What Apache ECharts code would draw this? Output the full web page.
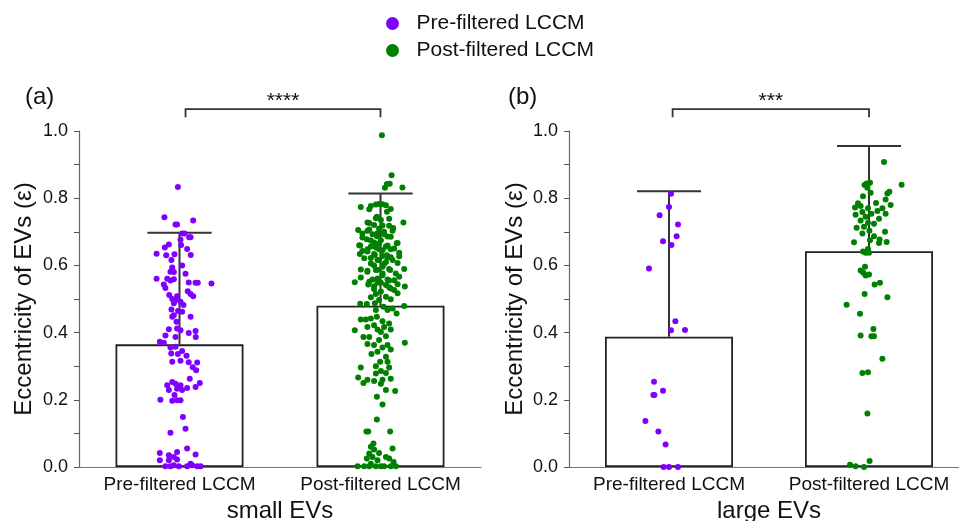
<!DOCTYPE html>
<html><head><meta charset="utf-8">
<script src="https://cdn.jsdelivr.net/npm/echarts@6/dist/echarts.min.js"></script>
<style>html,body{margin:0;padding:0;background:#fff}#c{width:959px;height:521px}</style>
</head><body><div id="c"></div>
<script>
// ---------- data ----------
const categories = ['Pre-filtered LCCM', 'Post-filtered LCCM'];
const panelNames = ['small EVs', 'large EVs'];
const panelTags = ['(a)', '(b)'];
const yAxisTitle = 'Eccentricity of EVs (\u03b5)';
const sigLabels = ['****', '***'];
const sigLevel = [1.065, 1.065];

const meansSmall = [0.365, 0.480];
const errTopSmall = [0.697, 0.814];
const meansLarge = [0.388, 0.642];
const errTopLarge = [0.821, 0.955];

const smallPreValues = [0.833,0.743,0.734,0.722,0.722,0.695,0.695,0.684,0.684,0.676,
0.662,0.661,0.653,0.649,0.635,0.633,0.631,0.630,0.616,0.600,
0.594,0.581,0.580,0.575,0.560,0.560,0.555,0.559,0.549,0.548,
0.548,0.546,0.543,0.533,0.523,0.515,0.512,0.508,0.508,0.500,
0.497,0.492,0.487,0.482,0.469,0.464,0.462,0.452,0.447,0.447,
0.432,0.410,0.412,0.407,0.405,0.399,0.391,0.387,0.387,0.373,
0.370,0.356,0.358,0.345,0.338,0.336,0.331,0.313,0.316,0.312,
0.311,0.297,0.288,0.263,0.250,0.243,0.253,0.248,0.243,0.233,
0.229,0.235,0.238,0.229,0.214,0.199,0.199,0.200,0.197,0.149,
0.114,0.102,0.042,0.045,0.055,0.035,0.030,0.037,0.020,0.020,
0.022,0.005,0.010,0.005,0.002,0.002,0.002,0.002,0.002,0.002];
const smallPreJitter = [-0.008,-0.075,0.068,-0.02,-0.012,0.013,0.025,0.055,0.048,0.005,
-0.053,0.008,-0.073,0.038,-0.114,-0.025,0.056,-0.066,-0.04,0.013,
-0.036,-0.045,-0.028,0.03,-0.114,-0.061,-0.045,-0.028,0.046,0.08,
0.091,0.159,-0.078,-0.07,0.041,0.055,-0.051,-0.012,0.068,-0.036,
-0.02,0.005,-0.028,0.02,-0.04,-0.007,0.013,-0.028,0.055,-0.036,
-0.015,-0.053,-0.012,0.005,0.08,0.046,-0.07,-0.02,0.081,-0.098,
-0.078,-0.045,-0.02,0.013,-0.041,-0.008,0.035,-0.036,0.005,0.046,
0.088,0.066,0.083,0.051,0.101,-0.061,-0.036,-0.02,0.005,-0.012,
0.013,0.038,0.08,-0.053,-0.025,-0.012,0.005,-0.095,-0.036,0.017,
0.03,-0.045,-0.098,-0.012,0.038,-0.053,-0.028,0.08,-0.098,-0.053,
-0.012,-0.028,0.055,0.063,-0.07,-0.045,-0.003,0.088,0.105,0.038];

const smallPostValues = [0.987,0.868,0.842,0.843,0.831,0.832,0.774,0.777,0.781,0.783,
0.782,0.779,0.768,0.760,0.745,0.735,0.728,0.728,0.720,0.718,
0.705,0.707,0.710,0.700,0.703,0.695,0.693,0.687,0.686,0.678,
0.675,0.668,0.666,0.659,0.656,0.656,0.648,0.648,0.641,0.638,
0.634,0.631,0.628,0.624,0.621,0.616,0.616,0.606,0.604,0.588,
0.586,0.586,0.581,0.576,0.566,0.561,0.558,0.556,0.551,0.548,
0.544,0.538,0.535,0.527,0.522,0.515,0.517,0.507,0.505,0.499,
0.497,0.487,0.486,0.485,0.479,0.477,0.472,0.467,0.457,0.467,
0.442,0.439,0.439,0.447,0.434,0.427,0.422,0.417,0.417,0.407,
0.409,0.409,0.402,0.387,0.387,0.389,0.378,0.370,0.366,0.363,
0.363,0.356,0.350,0.343,0.336,0.328,0.313,0.313,0.300,0.296,
0.296,0.286,0.278,0.280,0.266,0.260,0.256,0.260,0.250,0.263,
0.248,0.226,0.229,0.209,0.186,0.141,0.106,0.106,0.106,0.070,
0.060,0.052,0.055,0.040,0.042,0.030,0.030,0.025,0.020,0.025,
0.015,0.010,0.002,0.002,0.002,0.002,0.002,0.002,0.002,0.002,
0.767,0.740,0.739,0.726,0.719,0.703,0.711,0.696,0.693,0.683,
0.685,0.674,0.665,0.660,0.659,0.667,0.650,0.653,0.648,0.645,
0.643,0.634,0.630,0.624,0.622,0.616,0.610,0.627,0.607,0.600,
0.596,0.589,0.589,0.584,0.587,0.576,0.571,0.564,0.558,0.555,
0.550,0.548,0.543,0.542,0.531,0.530,0.537];
const smallPostJitter = [0.007,0.055,0.032,0.046,0.022,0.109,-0.098,-0.048,-0.023,-0.007,
0.01,0.027,0.051,0.032,-0.018,0.002,0.114,-0.065,-0.032,0.043,
-0.111,-0.056,-0.007,0.018,0.06,-0.09,-0.04,-0.018,0.035,-0.068,
0.002,-0.032,0.081,-0.101,-0.048,0.027,0.051,-0.007,-0.065,0.093,
-0.103,-0.028,0.01,0.035,-0.081,-0.015,0.06,-0.048,0.018,-0.098,
-0.023,0.048,-0.065,0.01,0.093,-0.015,0.035,0.068,-0.056,0.002,
0.085,-0.032,0.043,0.068,0.002,-0.023,0.085,0.027,-0.048,0.051,
-0.007,-0.028,-0.101,-0.068,0.118,0.015,0.06,-0.023,0.08,0.035,
-0.048,-0.098,-0.073,-0.018,0.01,0.043,-0.032,-0.065,0.018,-0.128,
-0.015,0.051,0.002,-0.056,-0.085,0.027,-0.007,0.121,-0.065,-0.032,
0.035,0.01,0.051,-0.015,-0.045,0.027,-0.002,0.035,-0.023,-0.098,
0.043,0.002,-0.023,0.027,-0.111,-0.065,-0.032,0.01,-0.085,0.051,
0.002,0.073,0.027,-0.018,0.01,-0.018,-0.07,-0.061,0.048,-0.035,
-0.048,-0.032,0.06,-0.056,-0.007,-0.04,0.027,-0.068,-0.015,0.043,
0.065,-0.048,-0.114,-0.081,-0.023,0.018,0.076,-0.056,0.002,0.051,
-0.056,-0.023,0.043,-0.056,0.01,-0.065,0.063,-0.015,0.018,-0.09,
0.051,-0.048,-0.007,-0.106,0.035,0.085,0.068,-0.023,-0.065,0.01,
-0.09,-0.032,0.032,0.051,-0.048,-0.007,0.027,0.093,0.085,-0.032,
0.01,0.043,0.118,-0.065,-0.015,0.076,0.01,-0.098,-0.04,0.043,
-0.128,-0.015,-0.061,0.027,0.051,-0.032,0.121];

const largePreValues = [0.813,0.774,0.749,0.722,0.687,0.672,0.661,0.591,0.434,0.407,
0.408,0.254,0.227,0.214,0.214,0.137,0.106,0.067,0.000,0.000,0.000];
const largePreJitter = [0.01,0.0,-0.047,0.045,0.038,-0.03,0.012,-0.10,0.032,0.01,
0.08,-0.075,-0.03,-0.078,-0.073,-0.118,-0.053,-0.017,-0.027,0.0,0.045];

const largePostValues = [0.908,0.840,0.844,0.846,0.839,0.831,0.819,0.814,0.806,0.816,
0.796,0.786,0.780,0.785,0.777,0.770,0.770,0.772,0.762,0.759,
0.754,0.754,0.751,0.745,0.739,0.734,0.727,0.724,0.712,0.715,
0.700,0.703,0.695,0.687,0.677,0.675,0.669,0.670,0.667,0.649,
0.641,0.638,0.638,0.596,0.585,0.578,0.573,0.570,0.548,0.543,
0.515,0.505,0.483,0.456,0.411,0.391,0.389,0.389,0.322,0.280,
0.282,0.159,0.007,0.002,0.000,0.018];
const largePostJitter = [0.075,0.163,-0.012,0.005,-0.022,-0.008,0.102,0.092,-0.03,0.008,
0.083,0.035,0.108,-0.055,-0.042,0.067,-0.005,-0.07,0.042,-0.033,
0.083,0.012,-0.067,-0.017,0.05,-0.042,-0.005,0.025,-0.062,-0.025,
0.08,0.002,-0.033,0.025,0.053,0.005,-0.075,0.088,0.05,-0.005,
-0.03,-0.017,0.0,-0.02,-0.042,-0.028,0.0,-0.017,0.055,0.028,
-0.022,0.092,-0.112,-0.045,0.022,-0.042,0.012,0.025,0.067,-0.033,
-0.005,-0.008,-0.095,-0.067,-0.025,0.003];

// ---------- chart ----------
const FONT = '"Liberation Sans", Arial, Helvetica, sans-serif';
const PURPLE = '#8000ff', GREEN = '#008000';
const INK = '#333';

function pts(vals, jit, idx) { return vals.map((v, i) => [idx + jit[i], v]); }

const panels = [
  { means: meansSmall, tops: errTopSmall, pre: pts(smallPreValues, smallPreJitter, 0), post: pts(smallPostValues, smallPostJitter, 1), bracketFrom: 0.03 },
  { means: meansLarge, tops: errTopLarge, pre: pts(largePreValues, largePreJitter, 0), post: pts(largePostValues, largePostJitter, 1), bracketFrom: 0.018 }
];

const grids = [
  { left: 79, top: 131, width: 402, height: 336, outerBoundsMode: 'none', containLabel: false },
  { left: 569, top: 131, width: 400, height: 336, outerBoundsMode: 'none', containLabel: false }
];
const yNameGap = [43, 42];

const xAxes = [], yAxes = [], series = [];
panels.forEach((p, i) => {
  xAxes.push({
    type: 'category', gridIndex: i, data: categories, position: 'bottom',
    axisLine: { onZero: false, lineStyle: { color: '#777', width: 1.2 } },
    axisTick: { alignWithLabel: true, length: 5, lineStyle: { color: '#555' } },
    axisLabel: { interval: 0, hideOverlap: false, fontSize: 19, fontFamily: FONT, color: '#111', margin: 8 },
    name: panelNames[i], nameLocation: 'middle', nameGap: 31,
    nameTextStyle: { fontSize: 24, fontFamily: FONT, color: '#111' }
  });
  yAxes.push({
    type: 'value', gridIndex: i, min: 0, max: 1, interval: 0.2, position: 'left',
    axisLine: { show: true, onZero: false, lineStyle: { color: '#666', width: 1.2 } },
    axisTick: { show: true, length: 5, lineStyle: { color: '#555' } },
    minorTick: { show: true, splitNumber: 2, length: 5, lineStyle: { color: '#555' } },
    splitLine: { show: false },
    axisLabel: { fontSize: 18, fontFamily: FONT, color: '#111', margin: 11, formatter: v => v.toFixed(1) },
    name: yAxisTitle, nameLocation: 'middle', nameGap: yNameGap[i],
    nameTextStyle: { fontSize: 24, fontFamily: FONT, color: '#111' }
  });
});
panels.forEach((p, i) => {
  xAxes.push({ type: 'value', gridIndex: i, min: -0.5, max: 1.5, show: false, axisLine: { onZero: false } });
});

panels.forEach((p, i) => {
  series.push({
    type: 'bar', xAxisIndex: i, yAxisIndex: i, data: p.means, barWidth: 128,
    itemStyle: { color: '#fff', borderColor: '#222', borderWidth: 1.8 }, z: 1, silent: true
  });
  series.push({
    type: 'custom', xAxisIndex: i + 2, yAxisIndex: i, z: 2, silent: true,
    data: p.means.map((m, k) => [k, m, p.tops[k]]),
    encode: { x: 0, y: [1, 2] },
    renderItem: function (params, api) {
      const x = api.value(0), m = api.value(1), t = api.value(2);
      const a = api.coord([x, m]), b = api.coord([x, t]);
      const half = api.size([0.16, 0])[0];
      return { type: 'group', children: [
        { type: 'line', shape: { x1: a[0], y1: a[1], x2: b[0], y2: b[1] }, style: { stroke: INK, lineWidth: 2 } },
        { type: 'line', shape: { x1: b[0] - half, y1: b[1], x2: b[0] + half, y2: b[1] }, style: { stroke: INK, lineWidth: 2 } }
      ] };
    }
  });
  series.push({
    type: 'scatter', name: categories[0], xAxisIndex: i + 2, yAxisIndex: i, data: p.pre,
    symbolSize: 6, itemStyle: { color: PURPLE, opacity: 1 }, clip: false, z: 5, silent: true
  });
  series.push({
    type: 'scatter', name: categories[1], xAxisIndex: i + 2, yAxisIndex: i, data: p.post,
    symbolSize: 6, itemStyle: { color: GREEN, opacity: 1 }, clip: false, z: 5, silent: true
  });
  const sig = sigLabels[i];
  series.push({
    type: 'custom', xAxisIndex: i + 2, yAxisIndex: i, z: 3, silent: true, clip: false,
    data: [[p.bracketFrom, 1, sigLevel[i]]],
    encode: { x: [0, 1], y: 2 },
    renderItem: function (params, api) {
      const a = api.coord([api.value(0), api.value(2)]);
      const b = api.coord([api.value(1), api.value(2)]);
      const drop = api.size([0, 0.024])[1];
      return { type: 'group', children: [
        { type: 'polyline', shape: { points: [[a[0], a[1] + drop], [a[0], a[1]], [b[0], b[1]], [b[0], b[1] + drop]] },
          style: { stroke: INK, lineWidth: 1.8, fill: null } },
        { type: 'text', x: (a[0] + b[0]) / 2, y: a[1] + 3,
          style: { text: sig, fontSize: 21, fontFamily: FONT, fill: '#111', align: 'center', verticalAlign: 'bottom' } }
      ] };
    }
  });
});

const option = {
  animation: false,
  backgroundColor: '#fff',
  grid: grids,
  xAxis: xAxes,
  yAxis: yAxes,
  title: [
    { text: panelTags[0], left: 25, top: 85, padding: 0, textStyle: { fontSize: 24, fontWeight: 'normal', fontFamily: FONT, color: '#111' } },
    { text: panelTags[1], left: 508, top: 85, padding: 0, textStyle: { fontSize: 24, fontWeight: 'normal', fontFamily: FONT, color: '#111' } }
  ],
  legend: {
    data: categories, orient: 'vertical', left: 386, top: 13, padding: 0,
    itemWidth: 38, itemHeight: 13, itemGap: 6, icon: 'circle', selectedMode: false,
    textStyle: { fontSize: 21, fontFamily: FONT, color: '#111' }
  },
  series: series
};
const chart = echarts.init(document.getElementById('c'), null, { renderer: 'canvas' });
chart.setOption(option);
</script>
</body></html>
